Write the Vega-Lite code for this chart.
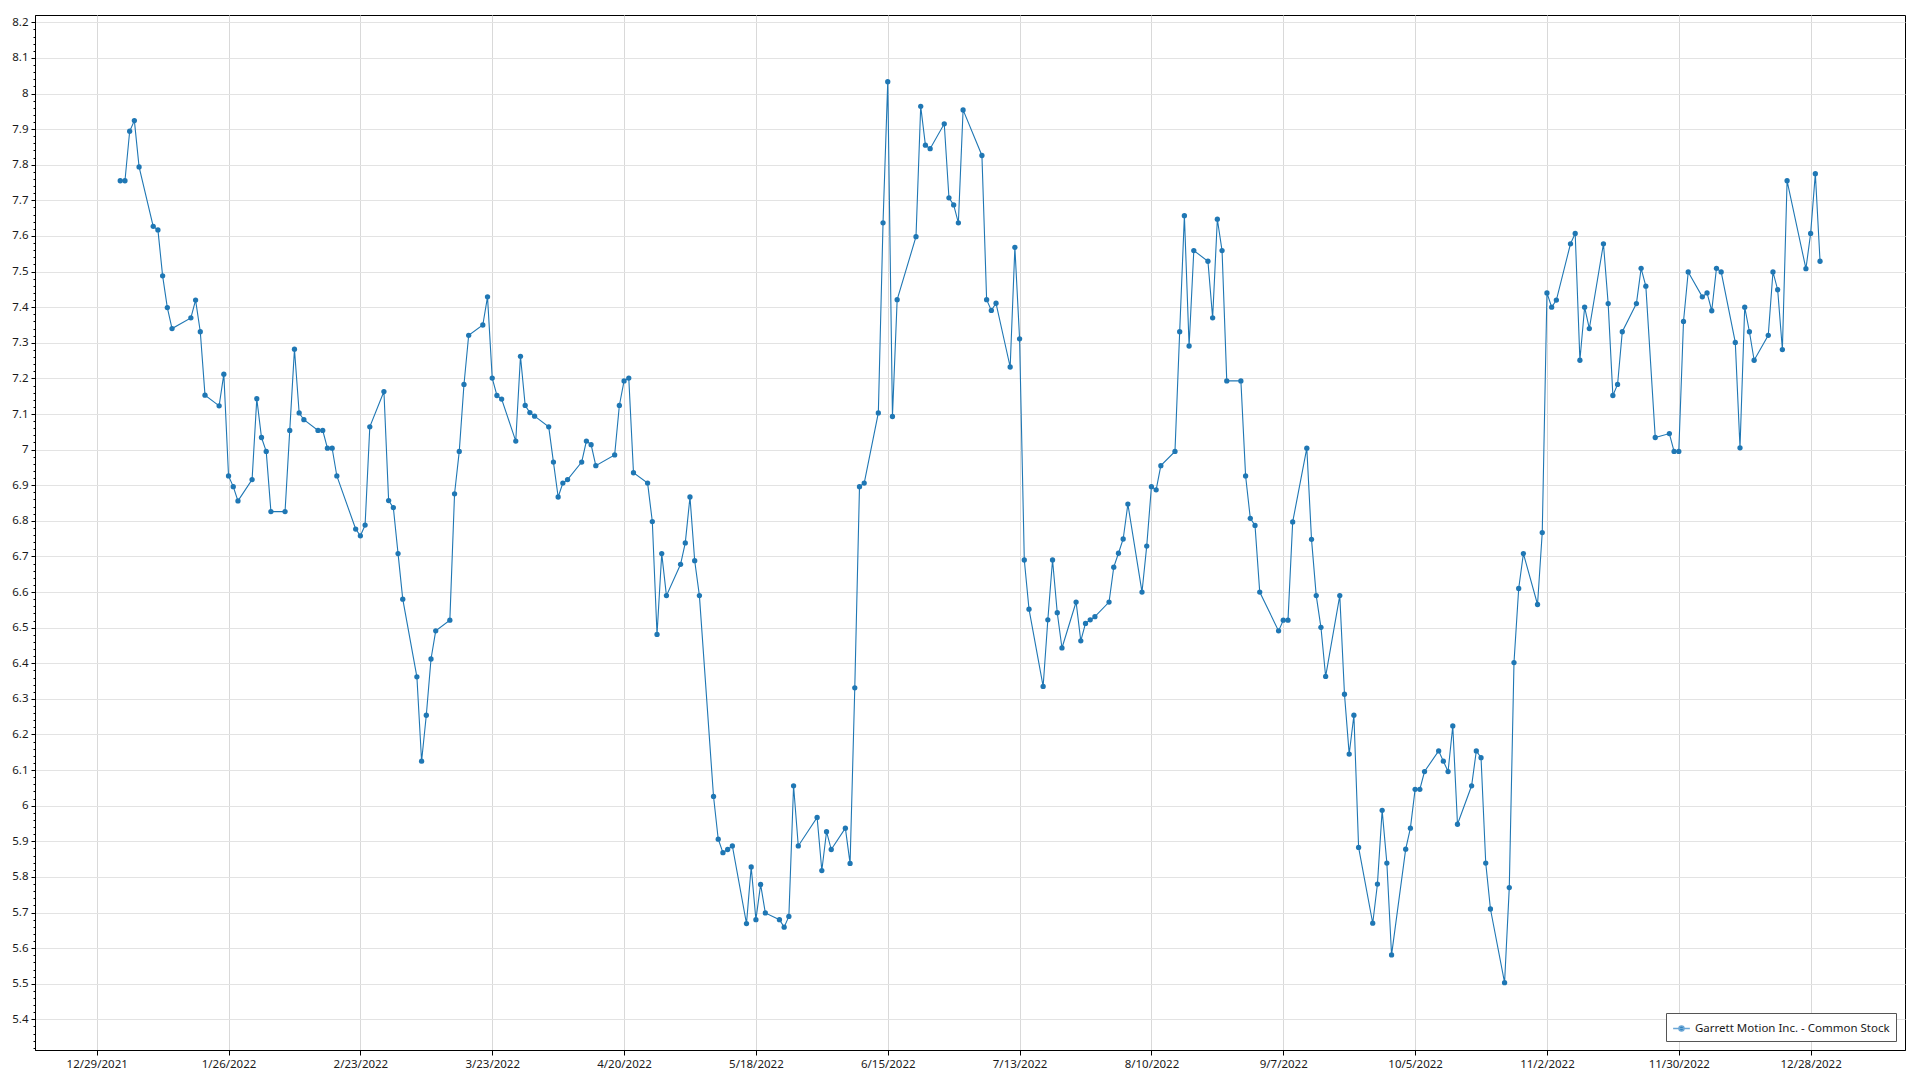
{
  "$schema": "https://vega.github.io/schema/vega-lite/v6.json",
  "width": 1870,
  "height": 1035,
  "autosize": {"type": "none"},
  "padding": {"left": 35, "top": 15, "right": 15, "bottom": 30},
  "background": "white",
  "config": {
    "font": "Noto Sans",
    "view": {"stroke": "#000", "strokeWidth": 1},
    "axis": {"labelColor": "#1a1a1a", "labelFontSize": 11.5, "domainColor": "#000", "tickColor": "#000", "title": null}
  },
  "data": {"values": [
    {"d":"2022-01-03","v":7.755},{"d":"2022-01-04","v":7.755},{"d":"2022-01-05","v":7.894},{"d":"2022-01-06","v":7.924},{"d":"2022-01-07","v":7.794},
    {"d":"2022-01-10","v":7.627},{"d":"2022-01-11","v":7.617},{"d":"2022-01-12","v":7.488},{"d":"2022-01-13","v":7.399},{"d":"2022-01-14","v":7.34},
    {"d":"2022-01-18","v":7.37},{"d":"2022-01-19","v":7.42},{"d":"2022-01-20","v":7.331},{"d":"2022-01-21","v":7.153},
    {"d":"2022-01-24","v":7.123},{"d":"2022-01-25","v":7.212},{"d":"2022-01-26","v":6.926},{"d":"2022-01-27","v":6.896},{"d":"2022-01-28","v":6.856},
    {"d":"2022-01-31","v":6.916},{"d":"2022-02-01","v":7.143},{"d":"2022-02-02","v":7.034},{"d":"2022-02-03","v":6.995},{"d":"2022-02-04","v":6.826},
    {"d":"2022-02-07","v":6.826},{"d":"2022-02-08","v":7.054},{"d":"2022-02-09","v":7.282},{"d":"2022-02-10","v":7.103},{"d":"2022-02-11","v":7.084},
    {"d":"2022-02-14","v":7.054},{"d":"2022-02-15","v":7.054},{"d":"2022-02-16","v":7.004},{"d":"2022-02-17","v":7.004},{"d":"2022-02-18","v":6.926},
    {"d":"2022-02-22","v":6.777},{"d":"2022-02-23","v":6.758},{"d":"2022-02-24","v":6.788},{"d":"2022-02-25","v":7.064},
    {"d":"2022-02-28","v":7.163},{"d":"2022-03-01","v":6.857},{"d":"2022-03-02","v":6.837},{"d":"2022-03-03","v":6.708},{"d":"2022-03-04","v":6.58},
    {"d":"2022-03-07","v":6.362},{"d":"2022-03-08","v":6.125},{"d":"2022-03-09","v":6.254},{"d":"2022-03-10","v":6.412},{"d":"2022-03-11","v":6.491},
    {"d":"2022-03-14","v":6.521},{"d":"2022-03-15","v":6.876},{"d":"2022-03-16","v":6.995},{"d":"2022-03-17","v":7.183},{"d":"2022-03-18","v":7.321},
    {"d":"2022-03-21","v":7.35},{"d":"2022-03-22","v":7.429},{"d":"2022-03-23","v":7.201},{"d":"2022-03-24","v":7.152},{"d":"2022-03-25","v":7.142},
    {"d":"2022-03-28","v":7.024},{"d":"2022-03-29","v":7.262},{"d":"2022-03-30","v":7.124},{"d":"2022-03-31","v":7.104},{"d":"2022-04-01","v":7.094},
    {"d":"2022-04-04","v":7.064},{"d":"2022-04-05","v":6.965},{"d":"2022-04-06","v":6.867},{"d":"2022-04-07","v":6.906},{"d":"2022-04-08","v":6.916},
    {"d":"2022-04-11","v":6.965},{"d":"2022-04-12","v":7.024},{"d":"2022-04-13","v":7.014},{"d":"2022-04-14","v":6.955},
    {"d":"2022-04-18","v":6.985},{"d":"2022-04-19","v":7.124},{"d":"2022-04-20","v":7.193},{"d":"2022-04-21","v":7.201},{"d":"2022-04-22","v":6.935},
    {"d":"2022-04-25","v":6.906},{"d":"2022-04-26","v":6.798},{"d":"2022-04-27","v":6.481},{"d":"2022-04-28","v":6.708},{"d":"2022-04-29","v":6.59},
    {"d":"2022-05-02","v":6.678},{"d":"2022-05-03","v":6.738},{"d":"2022-05-04","v":6.867},{"d":"2022-05-05","v":6.688},{"d":"2022-05-06","v":6.59},
    {"d":"2022-05-09","v":6.026},{"d":"2022-05-10","v":5.906},{"d":"2022-05-11","v":5.868},{"d":"2022-05-12","v":5.877},{"d":"2022-05-13","v":5.887},
    {"d":"2022-05-16","v":5.669},{"d":"2022-05-17","v":5.828},{"d":"2022-05-18","v":5.68},{"d":"2022-05-19","v":5.779},{"d":"2022-05-20","v":5.699},
    {"d":"2022-05-23","v":5.68},{"d":"2022-05-24","v":5.659},{"d":"2022-05-25","v":5.689},{"d":"2022-05-26","v":6.056},{"d":"2022-05-27","v":5.887},
    {"d":"2022-05-31","v":5.967},{"d":"2022-06-01","v":5.818},{"d":"2022-06-02","v":5.927},{"d":"2022-06-03","v":5.877},
    {"d":"2022-06-06","v":5.937},{"d":"2022-06-07","v":5.838},{"d":"2022-06-08","v":6.331},{"d":"2022-06-09","v":6.896},{"d":"2022-06-10","v":6.906},
    {"d":"2022-06-13","v":7.103},{"d":"2022-06-14","v":7.637},{"d":"2022-06-15","v":8.033},{"d":"2022-06-16","v":7.093},{"d":"2022-06-17","v":7.421},
    {"d":"2022-06-21","v":7.598},{"d":"2022-06-22","v":7.964},{"d":"2022-06-23","v":7.855},{"d":"2022-06-24","v":7.845},
    {"d":"2022-06-27","v":7.915},{"d":"2022-06-28","v":7.707},{"d":"2022-06-29","v":7.687},{"d":"2022-06-30","v":7.637},{"d":"2022-07-01","v":7.954},
    {"d":"2022-07-05","v":7.826},{"d":"2022-07-06","v":7.421},{"d":"2022-07-07","v":7.391},{"d":"2022-07-08","v":7.411},
    {"d":"2022-07-11","v":7.232},{"d":"2022-07-12","v":7.568},{"d":"2022-07-13","v":7.311},{"d":"2022-07-14","v":6.69},{"d":"2022-07-15","v":6.552},
    {"d":"2022-07-18","v":6.335},{"d":"2022-07-19","v":6.522},{"d":"2022-07-20","v":6.69},{"d":"2022-07-21","v":6.542},{"d":"2022-07-22","v":6.443},
    {"d":"2022-07-25","v":6.572},{"d":"2022-07-26","v":6.463},{"d":"2022-07-27","v":6.512},{"d":"2022-07-28","v":6.522},{"d":"2022-07-29","v":6.531},
    {"d":"2022-08-01","v":6.572},{"d":"2022-08-02","v":6.67},{"d":"2022-08-03","v":6.709},{"d":"2022-08-04","v":6.749},{"d":"2022-08-05","v":6.847},
    {"d":"2022-08-08","v":6.6},{"d":"2022-08-09","v":6.729},{"d":"2022-08-10","v":6.896},{"d":"2022-08-11","v":6.887},{"d":"2022-08-12","v":6.955},
    {"d":"2022-08-15","v":6.995},{"d":"2022-08-16","v":7.331},{"d":"2022-08-17","v":7.657},{"d":"2022-08-18","v":7.291},{"d":"2022-08-19","v":7.559},
    {"d":"2022-08-22","v":7.529},{"d":"2022-08-23","v":7.37},{"d":"2022-08-24","v":7.647},{"d":"2022-08-25","v":7.559},{"d":"2022-08-26","v":7.193},
    {"d":"2022-08-29","v":7.193},{"d":"2022-08-30","v":6.926},{"d":"2022-08-31","v":6.807},{"d":"2022-09-01","v":6.787},{"d":"2022-09-02","v":6.6},
    {"d":"2022-09-06","v":6.491},{"d":"2022-09-07","v":6.521},{"d":"2022-09-08","v":6.521},{"d":"2022-09-09","v":6.797},
    {"d":"2022-09-12","v":7.004},{"d":"2022-09-13","v":6.748},{"d":"2022-09-14","v":6.59},{"d":"2022-09-15","v":6.501},{"d":"2022-09-16","v":6.363},
    {"d":"2022-09-19","v":6.59},{"d":"2022-09-20","v":6.313},{"d":"2022-09-21","v":6.145},{"d":"2022-09-22","v":6.254},{"d":"2022-09-23","v":5.883},
    {"d":"2022-09-26","v":5.67},{"d":"2022-09-27","v":5.78},{"d":"2022-09-28","v":5.987},{"d":"2022-09-29","v":5.839},{"d":"2022-09-30","v":5.581},
    {"d":"2022-10-03","v":5.878},{"d":"2022-10-04","v":5.937},{"d":"2022-10-05","v":6.046},{"d":"2022-10-06","v":6.046},{"d":"2022-10-07","v":6.096},
    {"d":"2022-10-10","v":6.154},{"d":"2022-10-11","v":6.125},{"d":"2022-10-12","v":6.096},{"d":"2022-10-13","v":6.224},{"d":"2022-10-14","v":5.948},
    {"d":"2022-10-17","v":6.056},{"d":"2022-10-18","v":6.154},{"d":"2022-10-19","v":6.135},{"d":"2022-10-20","v":5.839},{"d":"2022-10-21","v":5.71},
    {"d":"2022-10-24","v":5.503},{"d":"2022-10-25","v":5.77},{"d":"2022-10-26","v":6.402},{"d":"2022-10-27","v":6.61},{"d":"2022-10-28","v":6.708},
    {"d":"2022-10-31","v":6.565},{"d":"2022-11-01","v":6.767},{"d":"2022-11-02","v":7.44},{"d":"2022-11-03","v":7.4},{"d":"2022-11-04","v":7.42},
    {"d":"2022-11-07","v":7.578},{"d":"2022-11-08","v":7.607},{"d":"2022-11-09","v":7.251},{"d":"2022-11-10","v":7.4},{"d":"2022-11-11","v":7.34},
    {"d":"2022-11-14","v":7.578},{"d":"2022-11-15","v":7.41},{"d":"2022-11-16","v":7.152},{"d":"2022-11-17","v":7.183},{"d":"2022-11-18","v":7.331},
    {"d":"2022-11-21","v":7.41},{"d":"2022-11-22","v":7.509},{"d":"2022-11-23","v":7.459},{"d":"2022-11-25","v":7.034},
    {"d":"2022-11-28","v":7.045},{"d":"2022-11-29","v":6.995},{"d":"2022-11-30","v":6.995},{"d":"2022-12-01","v":7.36},{"d":"2022-12-02","v":7.499},
    {"d":"2022-12-05","v":7.429},{"d":"2022-12-06","v":7.44},{"d":"2022-12-07","v":7.39},{"d":"2022-12-08","v":7.509},{"d":"2022-12-09","v":7.499},
    {"d":"2022-12-12","v":7.301},{"d":"2022-12-13","v":7.005},{"d":"2022-12-14","v":7.4},{"d":"2022-12-15","v":7.331},{"d":"2022-12-16","v":7.251},
    {"d":"2022-12-19","v":7.321},{"d":"2022-12-20","v":7.499},{"d":"2022-12-21","v":7.449},{"d":"2022-12-22","v":7.281},{"d":"2022-12-23","v":7.755},
    {"d":"2022-12-27","v":7.508},{"d":"2022-12-28","v":7.607},{"d":"2022-12-29","v":7.775},{"d":"2022-12-30","v":7.529}
  ]},
  "encoding": {
    "x": {
      "field": "d", "type": "temporal",
      "scale": {"type": "utc", "domain": [
        {"year": 2021, "month": 12, "date": 15, "hours": 21, "minutes": 30, "utc": true},
        {"year": 2023, "month": 1, "date": 17, "hours": 1, "utc": true}
      ]},
      "axis": {
        "values": [
          {"year": 2021, "month": 12, "date": 29, "utc": true},
          {"year": 2022, "month": 1, "date": 26, "utc": true},
          {"year": 2022, "month": 2, "date": 23, "utc": true},
          {"year": 2022, "month": 3, "date": 23, "utc": true},
          {"year": 2022, "month": 4, "date": 20, "utc": true},
          {"year": 2022, "month": 5, "date": 18, "utc": true},
          {"year": 2022, "month": 6, "date": 15, "utc": true},
          {"year": 2022, "month": 7, "date": 13, "utc": true},
          {"year": 2022, "month": 8, "date": 10, "utc": true},
          {"year": 2022, "month": 9, "date": 7, "utc": true},
          {"year": 2022, "month": 10, "date": 5, "utc": true},
          {"year": 2022, "month": 11, "date": 2, "utc": true},
          {"year": 2022, "month": 11, "date": 30, "utc": true},
          {"year": 2022, "month": 12, "date": 28, "utc": true}
        ],
        "format": "%-m/%-d/%Y",
        "grid": true, "gridColor": "#d9d9d9", "gridWidth": 1,
        "tickSize": 5, "labelPadding": 3, "labelFlush": false
      }
    },
    "y": {
      "field": "v", "type": "quantitative",
      "scale": {"domain": [5.314, 8.2205], "zero": false, "nice": false}
    }
  },
  "layer": [
    {
      "mark": {"type": "line", "color": "#1f77b4", "strokeWidth": 1.1},
      "encoding": {
        "y": {
          "field": "v", "type": "quantitative",
          "axis": {
            "values": [5.4,5.5,5.6,5.7,5.8,5.9,6.0,6.1,6.2,6.3,6.4,6.5,6.6,6.7,6.8,6.9,7.0,7.1,7.2,7.3,7.4,7.5,7.6,7.7,7.8,7.9,8.0,8.1,8.2],
            "format": ".1~f", "grid": true, "gridColor": "#e3e3e3", "tickSize": 4, "labelPadding": 3, "orient": "left"
          }
        }
      }
    },
    {
      "mark": {"type": "circle", "size": 28, "opacity": 1, "color": "#1f77b4"},
      "encoding": {
        "y": {
          "field": "v", "type": "quantitative",
          "axis": {
            "values": [5.32,5.34,5.36,5.38,5.42,5.44,5.46,5.48,5.52,5.54,5.56,5.58,5.62,5.64,5.66,5.68,5.72,5.74,5.76,5.78,5.82,5.84,5.86,5.88,5.92,5.94,5.96,5.98,6.02,6.04,6.06,6.08,6.12,6.14,6.16,6.18,6.22,6.24,6.26,6.28,6.32,6.34,6.36,6.38,6.42,6.44,6.46,6.48,6.52,6.54,6.56,6.58,6.62,6.64,6.66,6.68,6.72,6.74,6.76,6.78,6.82,6.84,6.86,6.88,6.92,6.94,6.96,6.98,7.02,7.04,7.06,7.08,7.12,7.14,7.16,7.18,7.22,7.24,7.26,7.28,7.32,7.34,7.36,7.38,7.42,7.44,7.46,7.48,7.52,7.54,7.56,7.58,7.62,7.64,7.66,7.68,7.72,7.74,7.76,7.78,7.82,7.84,7.86,7.88,7.92,7.94,7.96,7.98,8.02,8.04,8.06,8.08,8.12,8.14,8.16,8.18],
            "labels": false, "grid": false, "domain": false, "tickSize": 2, "orient": "left"
          }
        },
        "color": {
          "datum": "Garrett Motion Inc. - Common Stock",
          "scale": {"range": ["#1f77b4"]},
          "legend": {
            "title": null,
            "orient": "bottom-right",
            "offset": 9,
            "direction": "vertical",
            "padding": 6,
            "strokeColor": "#555555",
            "fillColor": "#ffffff",
            "labelFontSize": 11.5,
            "labelColor": "#1a1a1a",
            "labelLimit": 0,
            "symbolType": "M-1,0L1,0M-0.3,0A0.3,0.3 0 1,1 0.3,0A0.3,0.3 0 1,1 -0.3,0Z",
            "symbolSize": 280,
            "symbolStrokeWidth": 1.5,
            "symbolStrokeColor": "#6aa6d6",
            "symbolFillColor": "#1f77b4",
            "symbolOpacity": 1
          }
        }
      }
    }
  ],
  "resolve": {"axis": {"y": "independent"}}
}
